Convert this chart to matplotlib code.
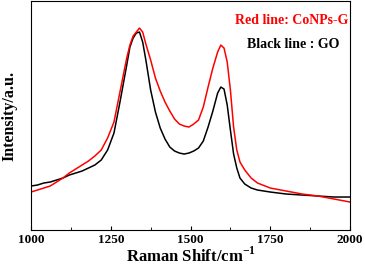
import matplotlib
matplotlib.use("Agg")
import matplotlib.pyplot as plt
from matplotlib.ticker import MultipleLocator

# Raman shift (cm-1) and intensities (arb. units)
shift = [1000, 1020, 1040, 1060, 1080, 1100, 1120, 1140, 1160, 1180, 1200,
         1220, 1240, 1260, 1280, 1300, 1310, 1320, 1330, 1340, 1350, 1360,
         1375, 1390, 1405, 1420, 1435, 1450, 1465, 1480, 1495, 1510, 1525,
         1540, 1555, 1570, 1585, 1595, 1605, 1615, 1625, 1635, 1645, 1655,
         1670, 1690, 1710, 1750, 1800, 1850, 1900, 1950, 2000]
red = [38, 40, 42, 44, 48, 52, 57, 61, 65, 69, 74,
       80, 92, 108, 140, 172, 185, 194, 198, 202, 198, 186,
       170, 152, 139, 128, 119, 111, 106, 104, 103, 106, 110,
       123, 143, 162, 178, 185, 182, 168, 140, 103, 80, 68,
       60, 52, 47, 42, 39, 36, 34, 31, 28]
black = [44, 45, 47, 48, 50, 52, 55, 57, 59, 62, 65,
         70, 80, 97, 130, 165, 183, 192, 197, 198, 188, 170,
         140, 118, 102, 91, 83, 79, 77, 76, 77, 79, 82,
         89, 103, 119, 137, 143, 141, 125, 100, 76, 62, 52,
         46, 42, 40, 38, 36, 35, 34, 33, 33]

plt.rcParams['font.family'] = ['Liberation Serif', 'DejaVu Serif']
plt.rcParams['font.weight'] = 'bold'
plt.rcParams['mathtext.fontset'] = 'custom'
plt.rcParams['mathtext.rm'] = 'Liberation Serif:bold'
plt.rcParams['mathtext.bf'] = 'Liberation Serif:bold'

fig = plt.figure(figsize=(3.65, 2.65), dpi=100)
ax = fig.add_axes([0.085, 0.132, 0.874, 0.864])

ax.plot(shift, black, color='black', lw=1.1)
ax.plot(shift, red, color='red', lw=1.1)

ax.set_xlim(1000, 2000)
ax.set_ylim(0, 229)
ax.xaxis.set_major_locator(MultipleLocator(250))
ax.xaxis.set_minor_locator(MultipleLocator(125))
ax.tick_params(axis='x', which='major', direction='in', length=3, labelsize=9.5, pad=3)
ax.tick_params(axis='x', which='minor', direction='in', length=2)
ax.set_yticks([])
for lab in ax.get_xticklabels():
    lab.set_fontweight('bold')

ax.set_xlabel(r'Raman Shift/cm$^{\mathbf{-1}}$', fontsize=12, fontweight='bold', labelpad=0)
ax.set_ylabel('Intensity/a.u.', fontsize=11.5, fontweight='bold', labelpad=10)

ax.text(0.818, 0.913, 'Red line: CoNPs-G', color='red', fontsize=10, fontweight='bold',
        ha='center', va='center', transform=ax.transAxes)
ax.text(0.822, 0.81, 'Black line : GO', color='black', fontsize=10, fontweight='bold',
        ha='center', va='center', transform=ax.transAxes)

fig.savefig('out.png', dpi=100)
